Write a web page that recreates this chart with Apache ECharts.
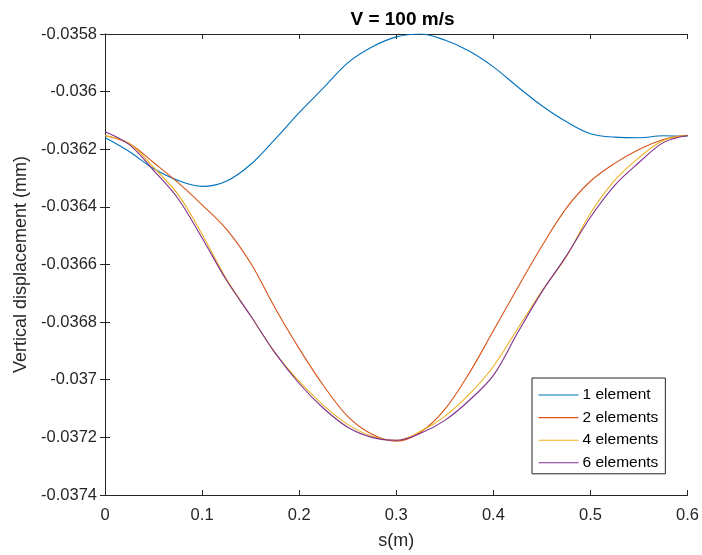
<!DOCTYPE html>
<html>
<head>
<meta charset="utf-8">
<script src="https://cdn.jsdelivr.net/npm/echarts@6/dist/echarts.min.js"></script>
<style>
  html, body { margin: 0; padding: 0; background: #fff; }
  #chart { width: 702px; height: 555px; }
</style>
</head>
<body>
<div id="chart"></div>
<script>
// Positions along the beam s (m)
var sValues = [0, 0.025, 0.05, 0.075, 0.1, 0.125, 0.15, 0.175, 0.2, 0.225, 0.25, 0.275, 0.3,
               0.325, 0.35, 0.375, 0.4, 0.425, 0.45, 0.475, 0.5, 0.525, 0.55, 0.575, 0.6];

// Vertical displacement (mm) per mesh
var elem1 = [-0.036159, -0.036208, -0.036267, -0.036308, -0.036329, -0.036311, -0.036253, -0.036166,
             -0.036073, -0.035987, -0.035900, -0.035845, -0.035810, -0.035800, -0.035821, -0.035859,
             -0.035914, -0.035983, -0.036049, -0.036104, -0.036146, -0.036158, -0.036160, -0.036153, -0.036155];
var elem2 = [-0.036152, -0.036180, -0.036246, -0.036315, -0.036393, -0.036477, -0.036595, -0.036750,
             -0.036892, -0.037020, -0.037127, -0.037189, -0.037213, -0.037182, -0.037103, -0.036978,
             -0.036830, -0.036681, -0.036536, -0.036405, -0.036311, -0.036249, -0.036201, -0.036166, -0.036152];
var elem4 = [-0.036152, -0.036180, -0.036263, -0.036356, -0.036495, -0.036650, -0.036778, -0.036906,
             -0.037006, -0.037089, -0.037155, -0.037196, -0.037210, -0.037179, -0.037127, -0.037051,
             -0.036954, -0.036823, -0.036692, -0.036574, -0.036422, -0.036308, -0.036229, -0.036170, -0.036152];
var elem6 = [-0.036139, -0.036184, -0.036273, -0.036370, -0.036508, -0.036654, -0.036778, -0.036906,
             -0.037013, -0.037099, -0.037165, -0.037200, -0.037210, -0.037186, -0.037141, -0.037072,
             -0.036985, -0.036837, -0.036695, -0.036571, -0.036436, -0.036325, -0.036246, -0.036177, -0.036152];

var seriesNames = ['1 element', '2 elements', '4 elements', '6 elements'];
var seriesColors = ['#0072BD', '#D95319', '#EDB120', '#7E2F8E'];

var xTickLabels = ['0', '0.1', '0.2', '0.3', '0.4', '0.5', '0.6'];
var yTickLabels = ['-0.0374', '-0.0372', '-0.037', '-0.0368', '-0.0366', '-0.0364', '-0.0362', '-0.036', '-0.0358'];

var titleText = 'V = 100 m/s';
var xName = 's(m)';
var yName = 'Vertical displacement (mm)';

function zip(xs, ys) {
  var out = [];
  for (var i = 0; i < xs.length; i++) out.push([xs[i], ys[i]]);
  return out;
}
var allData = [elem1, elem2, elem4, elem6];

var axisColor = '#262626';
var fontFam = 'Liberation Sans, Arial, Helvetica, sans-serif';

var chart = echarts.init(document.getElementById('chart'), null, { renderer: 'canvas' });

var series = seriesNames.map(function (name, i) {
  return {
    name: name,
    type: 'line',
    data: zip(sValues, allData[i]),
    smooth: 0.35,
    symbol: 'none',
    lineStyle: { color: seriesColors[i], width: 1.1 },
    itemStyle: { color: seriesColors[i] },
    z: 2 + i
  };
});

var option = {
  backgroundColor: '#ffffff',
  animation: false,
  title: {
    text: titleText,
    left: 397.5,
    textAlign: 'center',
    top: 5,
    textStyle: { fontFamily: fontFam, fontSize: 19, fontWeight: 'bold', color: '#000' }
  },
  legend: {
    data: seriesNames,
    orient: 'vertical',
    left: 532,
    top: 378,
    itemWidth: 40,
    itemHeight: 14,
    itemGap: 6.6,
    padding: [9, 7, 3, 6],
    backgroundColor: '#ffffff',
    borderColor: axisColor,
    borderWidth: 1,
    itemStyle: { opacity: 0 },
    lineStyle: { width: 1.1 },
    textStyle: { fontFamily: fontFam, fontSize: 15.5, color: '#000', padding: [0, 0, 0, -1] }
  },
  grid: { left: 105, right: 12, top: 34, bottom: 58, containLabel: false },
  xAxis: [{
    type: 'value',
    position: 'bottom',
    min: 0, max: 0.6, interval: 0.1,
    name: xName,
    nameLocation: 'middle',
    nameGap: 37,
    nameTextStyle: { fontFamily: fontFam, fontSize: 18, color: axisColor },
    axisLine: { show: true, lineStyle: { color: axisColor, width: 1 } },
    axisTick: { show: true, inside: true, length: 5, lineStyle: { color: axisColor } },
    axisLabel: {
      margin: 12, fontFamily: fontFam, fontSize: 16.5, color: axisColor,
      formatter: function (v) { return xTickLabels[Math.round(v / 0.1)]; }
    },
    splitLine: { show: false }
  }, {
    type: 'value',
    position: 'top',
    min: 0, max: 0.6, interval: 0.1,
    axisLine: { show: true, lineStyle: { color: axisColor, width: 1 } },
    axisTick: { show: true, inside: true, length: 5, lineStyle: { color: axisColor } },
    axisLabel: { show: false },
    splitLine: { show: false }
  }],
  yAxis: [{
    type: 'value',
    position: 'left',
    min: -0.0374, max: -0.0358, interval: 0.0002,
    name: yName,
    nameLocation: 'middle',
    nameGap: 75,
    nameTextStyle: { fontFamily: fontFam, fontSize: 18, color: axisColor },
    axisLine: { show: true, lineStyle: { color: axisColor, width: 1 } },
    axisTick: { show: true, inside: true, length: 5, lineStyle: { color: axisColor } },
    axisLabel: {
      margin: 8, fontFamily: fontFam, fontSize: 16.5, color: axisColor,
      formatter: function (v) { return yTickLabels[Math.round((v + 0.0374) / 0.0002)]; }
    },
    splitLine: { show: false }
  }, {
    type: 'value',
    position: 'right',
    min: -0.0374, max: -0.0358, interval: 0.0002,
    axisLine: { show: true, lineStyle: { color: axisColor, width: 1 } },
    axisTick: { show: true, inside: true, length: 5, lineStyle: { color: axisColor } },
    axisLabel: { show: false },
    splitLine: { show: false }
  }],
  series: series
};

chart.setOption(option);
</script>
</body>
</html>
